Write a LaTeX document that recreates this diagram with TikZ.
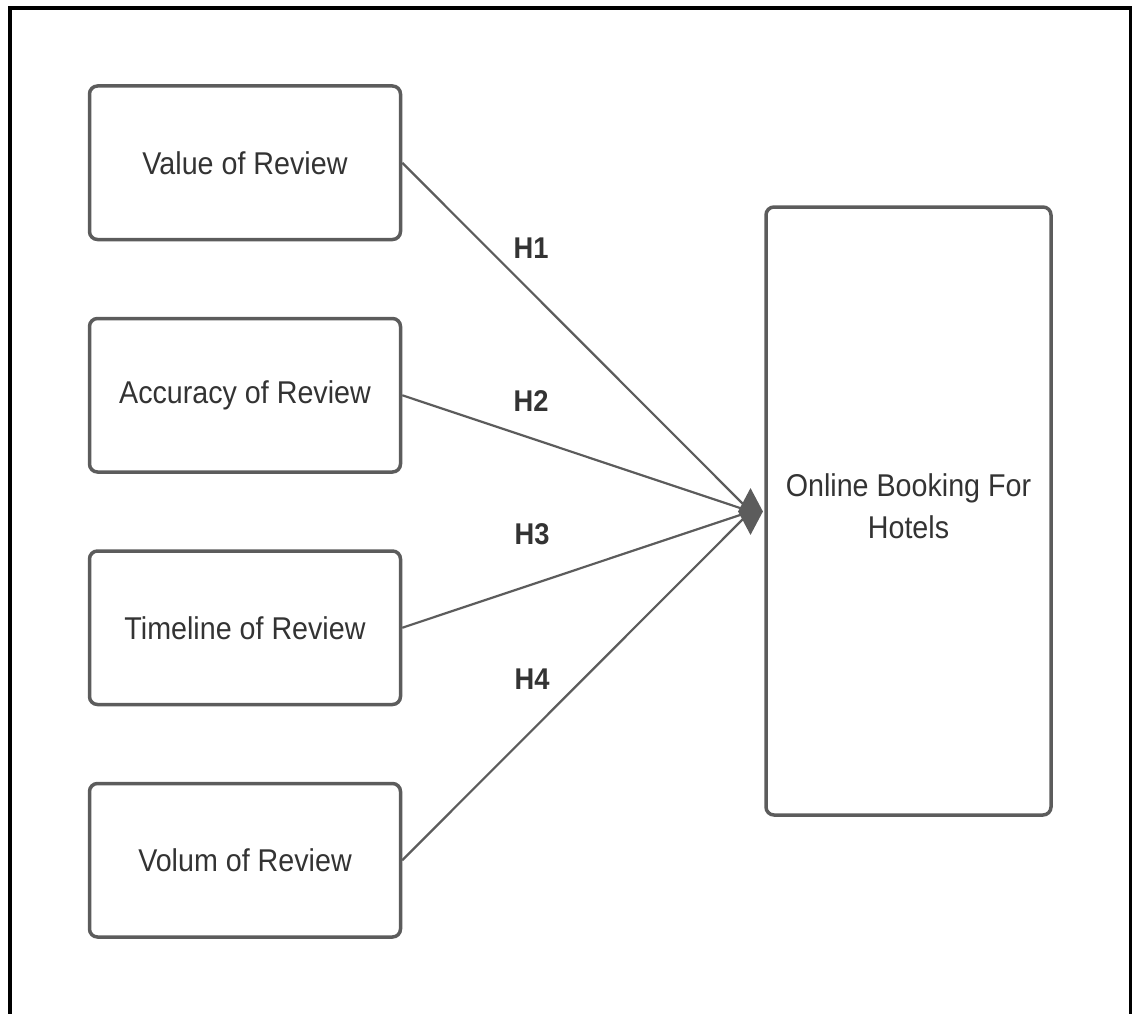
\documentclass[tikz,border=0pt]{standalone}
\usepackage{fontspec}
\setmainfont{Liberation Sans}[FakeStretch=0.91]
\usetikzlibrary{shapes.geometric}
\definecolor{edgegray}{RGB}{92,92,92}
\definecolor{textgray}{RGB}{51,51,51}
\begin{document}
\begin{tikzpicture}[x=1pt, y=-1pt]
    \tikzstyle{factor}=[draw=edgegray, line width=3.5pt, rounded corners=8pt, text=textgray,
      minimum width=311pt, minimum height=153.5pt, font=\fontsize{31.5}{42}\selectfont]
    \tikzstyle{link}=[draw=edgegray, line width=2.2pt]
    \tikzstyle{hyp}=[text=textgray, font=\fontsize{30}{36}\selectfont\bfseries]
    \useasboundingbox (0,0) rectangle (1132,1014);
    % open frame, no bottom edge
    \draw[line width=4pt] (10,1020) -- (10,8) -- (1131,8) -- (1131,1020);
    \node[factor] (val) at (245,162.75) {Value of Review};
    \node[factor] (acc) at (245,395.25) {Accuracy of Review};
    \node[factor] (tim) at (245,627.75) {Timeline of Review};
    \node[factor] (vol) at (245,860.25) {Volum of Review};
    \node[factor, minimum width=285pt, minimum height=608pt, align=center, text depth=10pt] (book) at (908.5,511)
      {Online Booking For\\Hotels};
    \coordinate (joint) at (750.5,511.5);
    \draw[link] (val.east) -- (joint); \draw[link] (acc.east) -- (joint);
    \draw[link] (tim.east) -- (joint); \draw[link] (vol.east) -- (joint);
    \node[diamond, fill=edgegray, inner sep=0pt, minimum width=25pt, minimum height=47pt] (tip) at (joint) {};
    \node[hyp] (h1) at (531,248.5) {H1};
    \node[hyp] (h2) at (531,401) {H2};
    \node[hyp] (h3) at (532,534) {H3};
    \node[hyp] (h4) at (532,679) {H4};
  \end{tikzpicture}
\end{document}
